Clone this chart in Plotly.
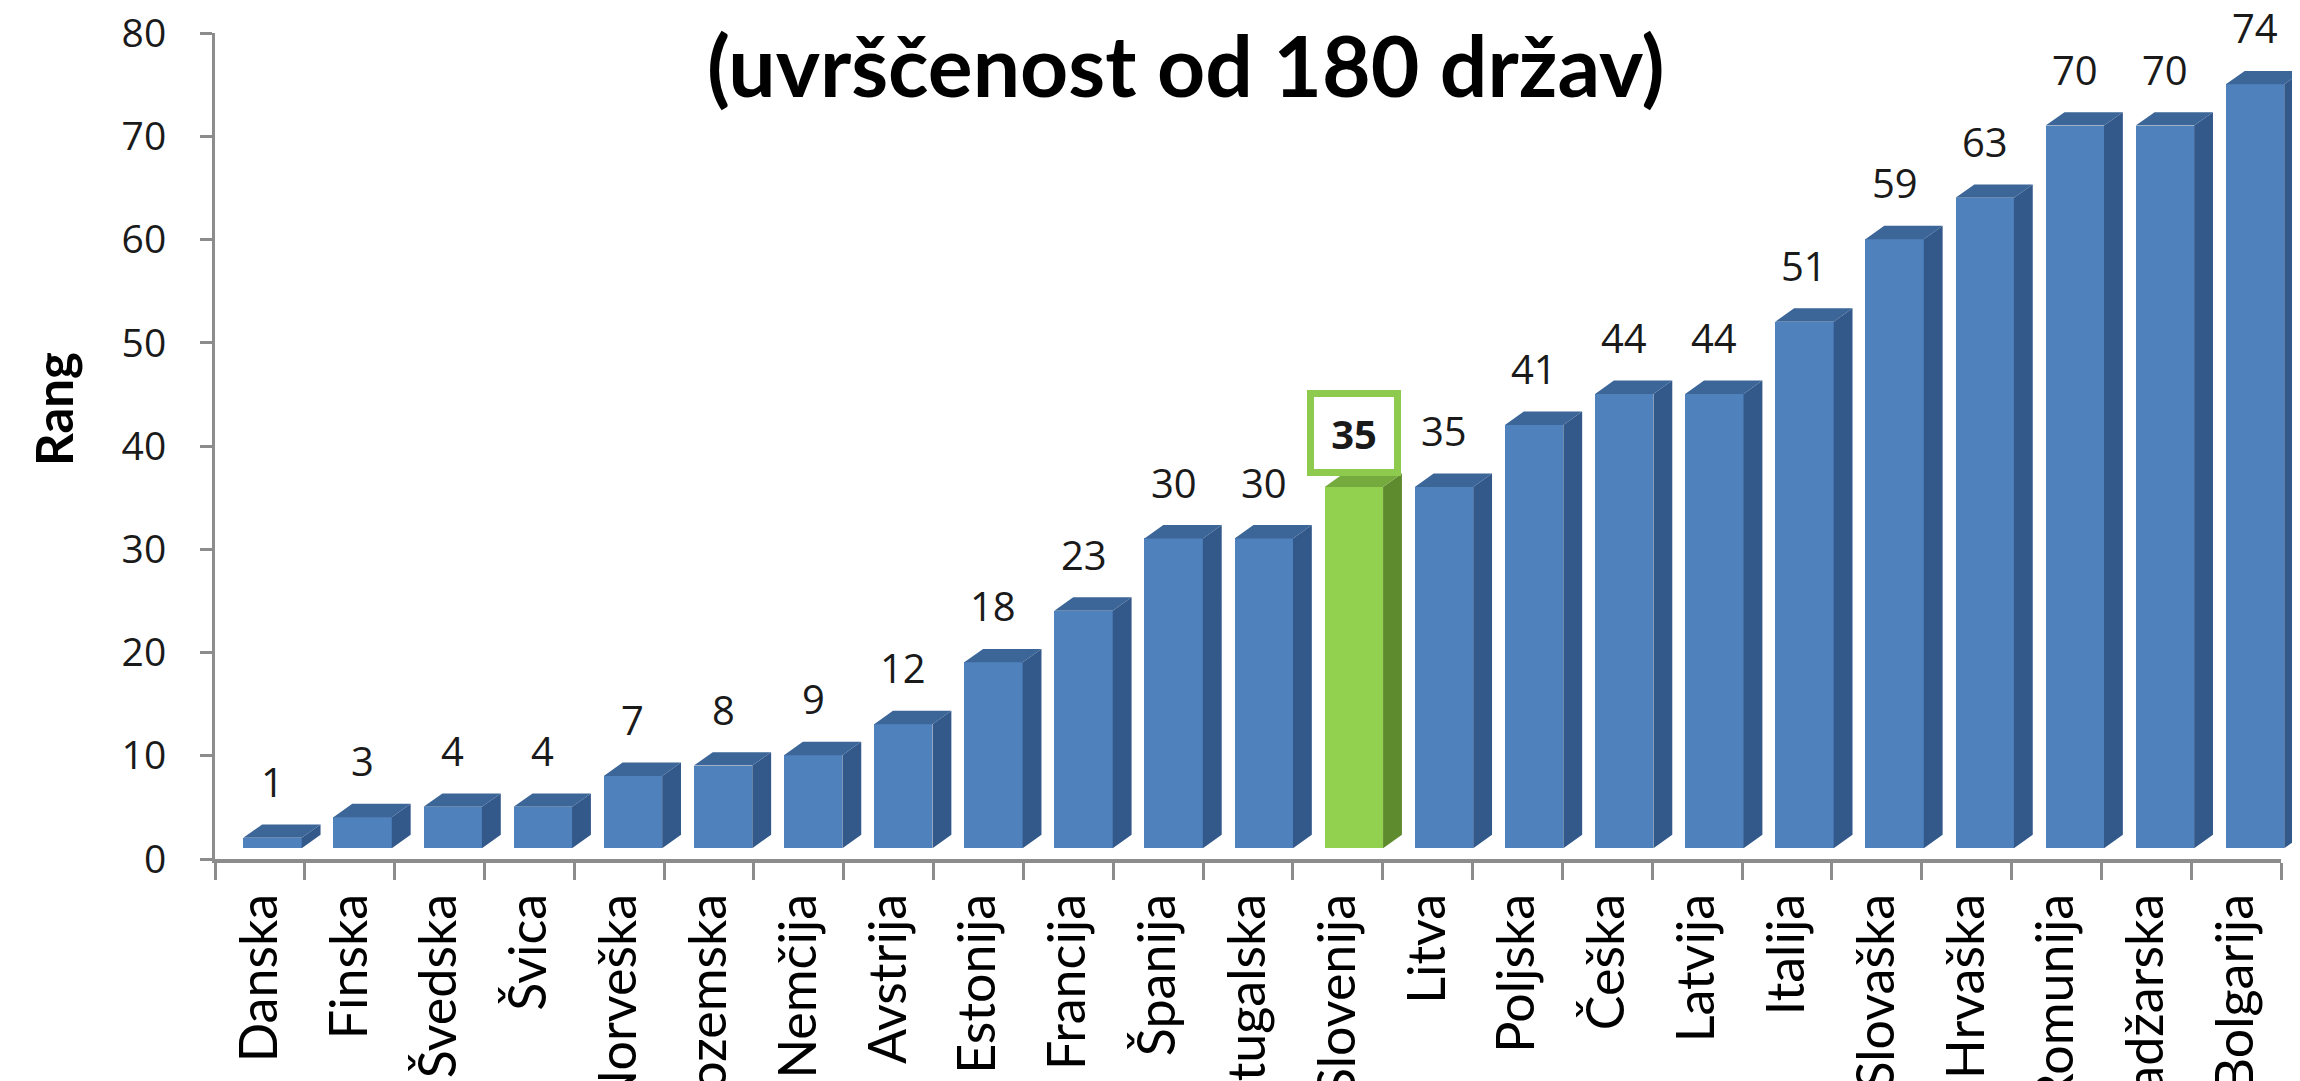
import plotly.graph_objects as go

# ---- data ----
countries = ["Danska", "Finska", "Švedska", "Švica", "Norveška", "Nizozemska", "Nemčija",
             "Avstrija", "Estonija", "Francija", "Španija", "Portugalska", "Slovenija",
             "Litva", "Poljska", "Češka", "Latvija", "Italija", "Slovaška", "Hrvaška",
             "Romunija", "Madžarska", "Bolgarija"]
ranks = [1, 3, 4, 4, 7, 8, 9, 12, 18, 23, 30, 30, 35, 35, 41, 44, 44, 51, 59, 63, 70, 70, 74]
highlight = "Slovenija"
y_ticks = [0, 10, 20, 30, 40, 50, 60, 70, 80]
title_text = "(uvrščenost od 180 držav)"
y_title = "Rang"

# ---- style / geometry constants ----
W, H = 2300, 1081
ML, MR, MT, MB = 207, 0, 25, 230
XR = (-0.5, 22.8)
px_per_unit = (W - ML - MR) / (XR[1] - XR[0])
dom2 = (len(countries) * px_per_unit) / (W - ML - MR)

BASE = 1.05      # floor offset of 3D front face (y units)
DEPTH_Y = 1.3    # top-face depth (y units)
DEPTH_X = 0.21   # side-face depth (x units)
BW = 0.65        # front face width

BLUE = dict(front="#4F81BD", side="#33588A", top="#3C6598")
GREEN = dict(front="#92D050", side="#5F8B2F", top="#75AA3E")
NUMFONT = "Open Sans"

n = len(countries)
xc = [i * 1.0032 + 0.14 for i in range(n)]

fig = go.Figure()

fig.add_trace(go.Bar(
    x=xc, y=ranks, base=BASE, width=BW,
    marker=dict(color=[GREEN["front"] if c == highlight else BLUE["front"] for c in countries],
                line=dict(width=0)),
    hoverinfo="skip", showlegend=False))


def faces(selector):
    sx, sy, tx, ty = [], [], [], []
    for i, (c, v) in enumerate(zip(countries, ranks)):
        if not selector(c):
            continue
        l = xc[i] - BW / 2
        r = xc[i] + BW / 2
        top = v + BASE
        # side face
        sx += [r, r + DEPTH_X, r + DEPTH_X, r, r, None]
        sy += [BASE, BASE + DEPTH_Y, top + DEPTH_Y, top, BASE, None]
        # top face
        tx += [l, r, r + DEPTH_X, l + DEPTH_X, l, None]
        ty += [top, top, top + DEPTH_Y, top + DEPTH_Y, top, None]
    return sx, sy, tx, ty


for sel, col in [(lambda c: c != highlight, BLUE), (lambda c: c == highlight, GREEN)]:
    sx, sy, tx, ty = faces(sel)
    fig.add_trace(go.Scatter(x=sx, y=sy, mode="lines", fill="toself", fillcolor=col["side"],
                             line=dict(width=0, color=col["side"]), hoverinfo="skip", showlegend=False))
    fig.add_trace(go.Scatter(x=tx, y=ty, mode="lines", fill="toself", fillcolor=col["top"],
                             line=dict(width=0, color=col["top"]), hoverinfo="skip", showlegend=False))

# dummy trace for the labelled category axis
fig.add_trace(go.Scatter(x=[0], y=[0], xaxis="x2", yaxis="y", mode="markers",
                         marker=dict(opacity=0), hoverinfo="skip", showlegend=False))

# value labels
anns = []
for i, (c, v) in enumerate(zip(countries, ranks)):
    a = dict(x=xc[i], y=v + BASE + DEPTH_Y, xref="x", yref="y", showarrow=False,
             yanchor="middle", xanchor="center", yshift=43,
             font=dict(family=NUMFONT, size=40, color="#1a1a1a"))
    if c == highlight:
        a.update(text="<b>%d</b>" % v, bordercolor="#8DCA4D", borderwidth=7, bgcolor="white",
                 width=70, height=62, borderpad=5, yshift=40)
    else:
        a.update(text=str(v))
    anns.append(a)

# title and y title
plot_h = H - MT - MB


def py(p):
    return (H - MB - p) / plot_h


def pxp(p):
    return (p - ML) / (W - ML - MR)


anns.append(dict(text="<b>%s</b>" % title_text, xref="paper", yref="paper",
                 x=pxp(1178), y=py(57), xanchor="center", yanchor="middle", showarrow=False,
                 font=dict(family="Lato", size=84, color="#000000")))
anns.append(dict(text="<b>%s</b>" % y_title, xref="paper", yref="paper",
                 x=pxp(45), y=py(401), xanchor="center", yanchor="middle", textangle=-90,
                 showarrow=False, font=dict(family="Lato", size=51, color="#000000")))

# bottom decorative gradient line
shapes = []
segs = 40
c0 = (185, 110, 195)
c1 = (200, 125, 170)
c2 = (242, 136, 72)
for k in range(segs):
    t = k / (segs - 1)
    if t < 0.5:
        u = t / 0.5
        col = tuple(int(c0[j] + (c1[j] - c0[j]) * u) for j in range(3))
    else:
        u = (t - 0.5) / 0.5
        col = tuple(int(c1[j] + (c2[j] - c1[j]) * u) for j in range(3))
    x0 = k * W / segs
    x1 = (k + 1) * W / segs
    shapes.append(dict(type="rect", xref="paper", yref="paper",
                       x0=pxp(x0), x1=pxp(x1), y0=py(1081), y1=py(1077),
                       fillcolor="rgb(%d,%d,%d)" % col, line=dict(width=0), layer="above"))

fig.update_layout(
    width=W, height=H,
    margin=dict(l=ML, r=MR, t=MT, b=MB, autoexpand=False),
    paper_bgcolor="white", plot_bgcolor="rgba(0,0,0,0)",
    bargap=0,
    showlegend=False,
    annotations=anns,
    shapes=shapes,
    xaxis=dict(domain=[0, 1], range=list(XR), visible=False, fixedrange=True),
    xaxis2=dict(domain=[0, dom2], range=[-0.5, n - 0.5], anchor="y",
                tickmode="array", tickvals=list(range(n)), ticktext=countries,
                ticks="", tickangle=-90, ticklabelstandoff=10, ticklabeloverflow="allow",
                tickfont=dict(family="Lato", size=52, color="#000000"),
                showline=True, linecolor="#8C8C8C", linewidth=4,
                showgrid=False, zeroline=False, automargin=False,
                minor=dict(ticks="outside", tick0=-0.5, dtick=1, ticklen=17,
                           tickwidth=3, tickcolor="#8C8C8C", showgrid=False)),
    yaxis=dict(range=[0, 80.02], tickmode="array", tickvals=y_ticks, anchor="x",
               ticks="outside", ticklen=12, tickwidth=3, tickcolor="#8C8C8C",
               showline=True, linecolor="#8C8C8C", linewidth=3,
               showgrid=False, zeroline=False, automargin=False,
               ticklabelstandoff=26, ticklabeloverflow="allow",
               tickfont=dict(family=NUMFONT, size=39, color="#1a1a1a")),
)

fig.write_html("out.html")
